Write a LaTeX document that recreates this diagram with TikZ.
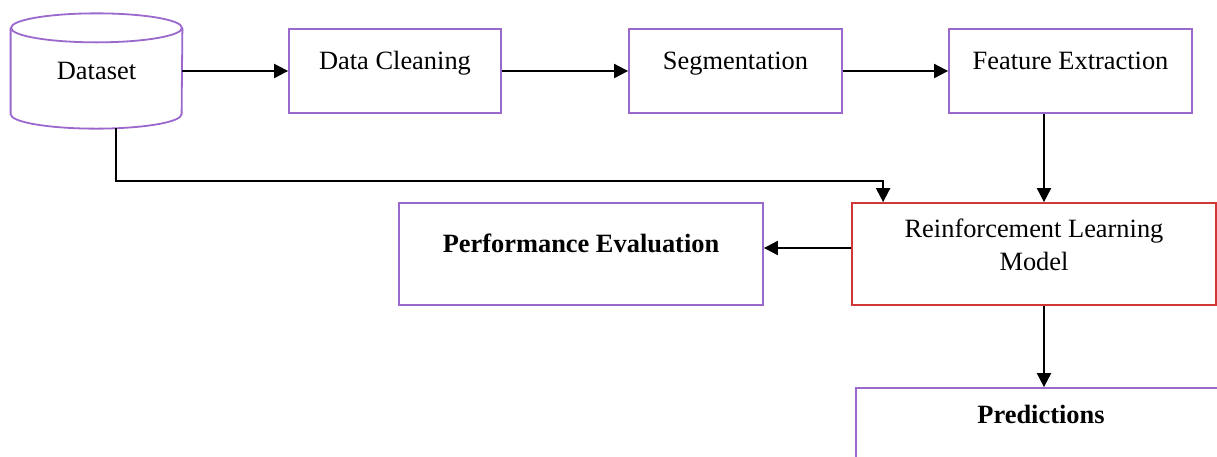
\documentclass[tikz,border=0pt]{standalone}
\usepackage{fontspec}
\setmainfont{Liberation Serif}
\usetikzlibrary{arrows.meta}
\definecolor{boxpurple}{RGB}{155,105,205}
\definecolor{boxred}{RGB}{210,55,55}
\tikzset{
  block/.style={draw=boxpurple, line width=0.9pt, inner sep=2pt,
    minimum width=#1, minimum height=42pt, text height=9pt, text depth=11pt},
  flow/.style={->, line width=1pt}
}

\begin{document}
\begin{tikzpicture}[x=0.5pt, y=-0.5pt, font=\fontsize{13.2}{16.5}\selectfont,
  >={Triangle[length=7pt,width=7pt]}]
  \useasboundingbox (0,0) rectangle (1217,456);
  \clip (0,0) rectangle (1217,456);

  % the data store
  \node (dataset) at (96.5,71) [minimum width=85.5pt, minimum height=42.75pt, inner sep=0pt] {Dataset};
  \draw [boxpurple, line width=0.9pt] (dataset.north west) -- (dataset.south west)
    arc [start angle=180, end angle=360, x radius=42.75pt, y radius=7.25pt] -- (dataset.north east);
  \draw [boxpurple, line width=0.9pt] (dataset.north) ellipse [x radius=42.75pt, y radius=7.25pt];

  \node [block=106pt] (clean) at (395,71) {Data Cleaning};
  \node [block=106.5pt] (segment) at (735.5,71) {Segmentation};
  \node [block=121.5pt] (feature) at (1070.5,71) {Feature Extraction};

  \node [block=182pt, minimum height=51pt, draw=boxred, text height=, text depth=, align=center] (rlmodel) at (1034,254)
    {Reinforcement Learning\\Model\\[-7pt]\mbox{}};
  \node [block=182pt, minimum height=51pt, font=\fontsize{13.2}{16.5}\selectfont\bfseries] (perf) at (581,254) {Performance Evaluation};
  \node [block=185pt, minimum height=51pt, text depth=25pt, font=\fontsize{13.2}{16.5}\selectfont\bfseries] (pred) at (1041,439) {Predictions};

  \coordinate (col) at (1044,0);
  \coordinate (dsout) at (116,128);

  \draw [flow] (dataset.east) -- (clean.west);
  \draw [flow] (clean.east) -- (segment.west);
  \draw [flow] (segment.east) -- (feature.west);
  \draw [flow] (feature.south -| col) -- (rlmodel.north -| col);
  \draw [flow] (dsout) -- ++(0,53) -| ([xshift=16pt]rlmodel.north west);
  \draw [flow] ([yshift=3pt]rlmodel.west) -- ([yshift=3pt]perf.east);
  \draw [flow] (rlmodel.south -| col) -- (pred.north -| col);
\end{tikzpicture}
\end{document}
